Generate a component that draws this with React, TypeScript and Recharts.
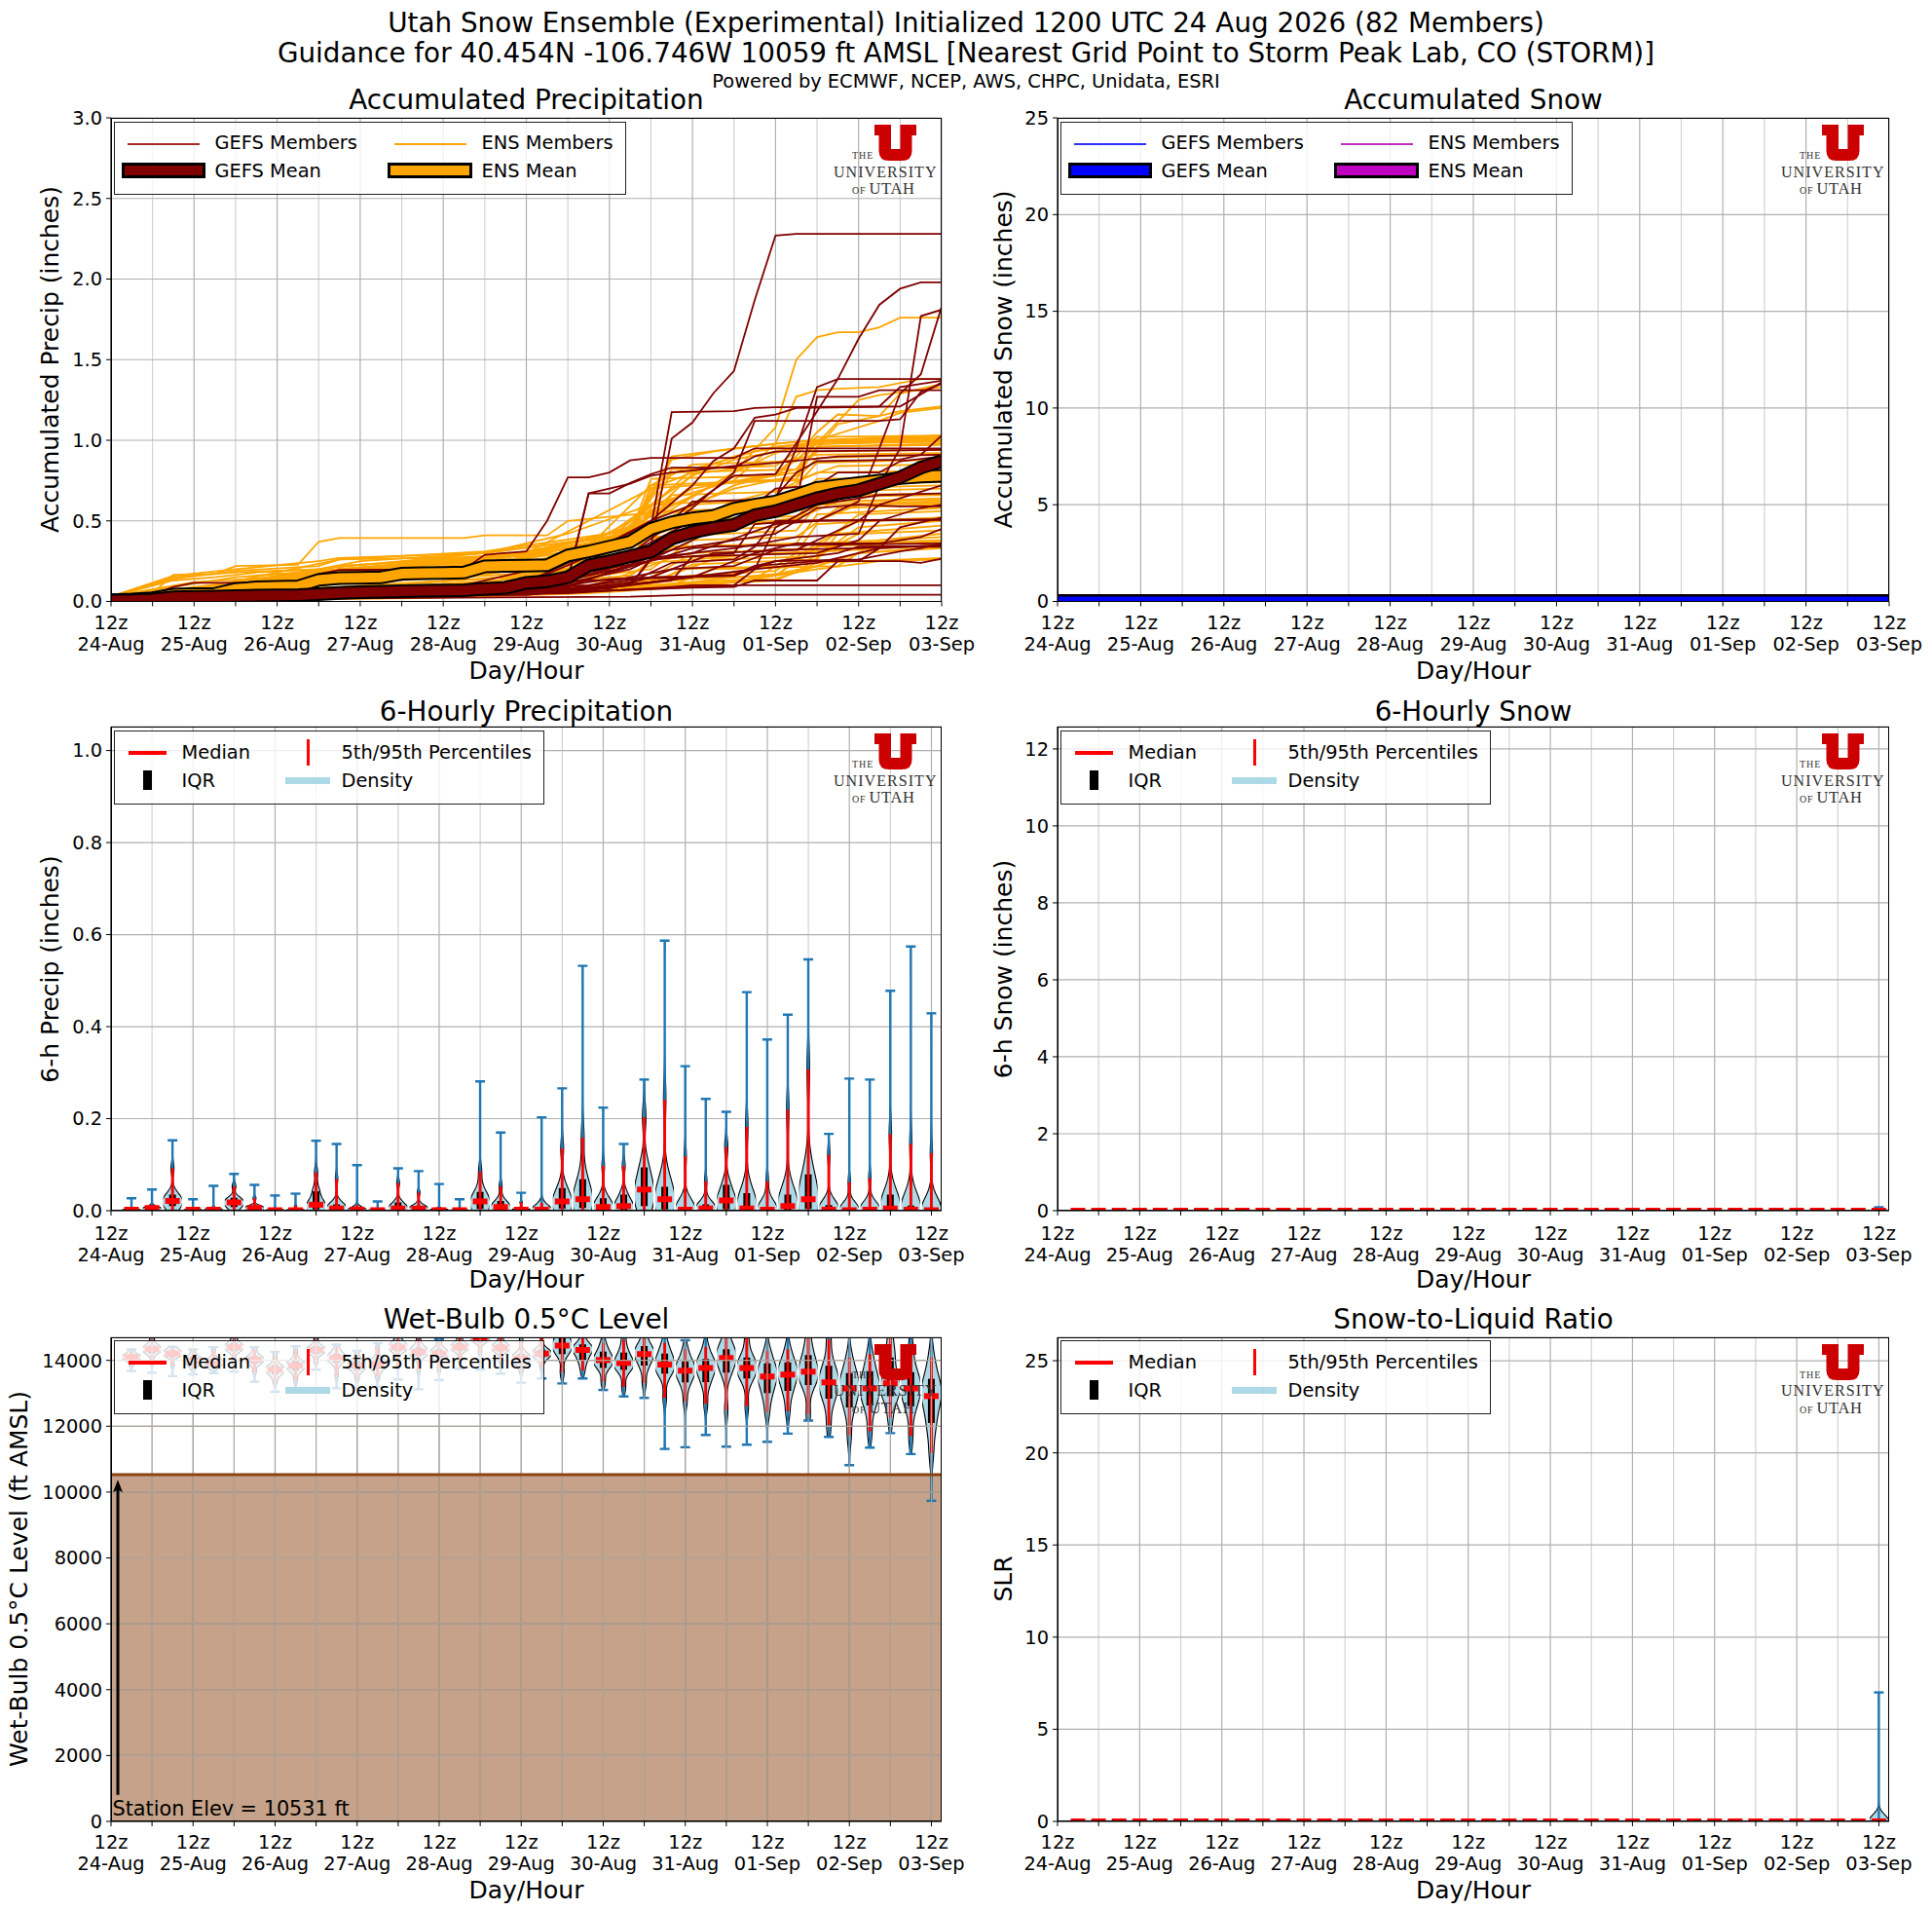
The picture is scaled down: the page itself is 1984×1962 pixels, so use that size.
import React from 'react';
import { Bar, CartesianGrid, ComposedChart, Legend, Line, ReferenceArea, ReferenceLine, XAxis, YAxis } from 'recharts';

const FONT = '"DejaVu Sans", sans-serif';

const xTicks = [0, 12, 24, 36, 48, 60, 72, 84, 96, 108, 120, 132, 144, 156, 168, 180, 192, 204, 216, 228, 240];
const majorHours = [0, 24, 48, 72, 96, 120, 144, 168, 192, 216, 240];
const minorHours = [12, 36, 60, 84, 108, 132, 156, 180, 204, 228];
const dayLabels = ['24-Aug', '25-Aug', '26-Aug', '27-Aug', '28-Aug', '29-Aug', '30-Aug', '31-Aug', '01-Sep', '02-Sep', '03-Sep'];

const meanHours = [0, 6, 12, 18, 24, 30, 36, 42, 48, 54, 60, 66, 72, 78, 84, 90, 96, 102, 108, 114, 120, 126, 132, 138, 144, 150, 156, 162, 168, 174, 180, 186, 192, 198, 204, 210, 216, 222, 228, 234, 240];
const gefsMean = [.005, .007, .012, .025, .028, .03, .034, .036, .038, .039, .045, .053, .058, .06, .063, .066, .068, .07, .078, .085, .115, .125, .15, .224, .25, .28, .31, .39, .43, .455, .475, .535, .56, .60, .64, .67, .69, .73, .77, .83, .87];
const ensMean = [.008, .012, .02, .043, .045, .047, .077, .087, .09, .093, .134, .145, .147, .15, .172, .175, .177, .18, .217, .22, .222, .225, .285, .31, .34, .37, .45, .49, .515, .53, .575, .60, .62, .66, .705, .72, .735, .75, .765, .775, .78];

// hand read [hour, inches] vertices of each member
const gefsMembers = [
  [[0,.02],[60,.03],[120,.1],[132,.13],[150,.22],[156,.34],[162,1.01],[168,1.11],[174,1.29],[180,1.43],[186,1.87],[192,2.27],[198,2.28],[240,2.28]],
  [[0,.02],[72,.04],[120,.12],[138,.3],[156,.5],[168,.6],[180,.78],[192,.79],[198,.98],[204,1.18],[210,1.38],[216,1.63],[222,1.84],[228,1.94],[234,1.98],[240,1.98]],
  [[0,.02],[90,.03],[132,.06],[150,.1],[156,.27],[180,.33],[198,.4],[216,.42],[222,.72],[228,.95],[234,1.77],[240,1.81]],
  [[0,.03],[84,.05],[132,.16],[168,.3],[192,.48],[204,.5],[216,.62],[222,.95],[228,1.29],[234,1.41],[240,1.83]],
  [[0,.02],[66,.06],[126,.1],[162,.4],[186,.62],[192,.64],[198,.95],[204,1.33],[210,1.38],[240,1.38]],
  [[0,.03],[108,.1],[132,.18],[156,.46],[162,1.175],[180,1.18],[186,1.2],[192,1.205],[222,1.21],[228,1.33],[234,1.35],[240,1.37]],
  [[0,.02],[120,.06],[150,.2],[180,.5],[198,.6],[204,1.27],[216,1.27],[222,1.31],[240,1.31]],
  [[0,.02],[114,.05],[144,.2],[168,.58],[180,.8],[186,1.12],[222,1.12],[228,1.13],[234,1.3],[240,1.35]],
  [[0,.03],[102,.1],[138,.28],[156,.5],[168,.72],[174,.87],[180,.95],[186,1.14],[192,1.16],[198,1.2],[228,1.21],[240,1.36]],
  [[0,.02],[12,.04],[18,.09],[24,.115],[54,.115],[60,.17],[66,.195],[102,.2],[108,.29],[120,.31],[126,.5],[132,.77],[138,.77],[144,.8],[150,.875],[156,.89],[180,.89],[186,.95],[240,.95]],
  [[0,.02],[72,.05],[108,.1],[132,.13],[138,.67],[144,.67],[150,.735],[156,.79],[162,.83],[180,.83],[186,.9],[192,.93],[240,.94]],
  [[0,.02],[96,.04],[132,.14],[138,.67],[144,.7],[150,.73],[156,.78],[162,.8],[180,.84],[192,.86],[210,.9],[240,.91]],
  [[0,.01],[120,.05],[150,.3],[168,.5],[192,.65],[198,.8],[204,.87],[228,.88],[234,.91],[240,1.03]],
  [[0,.01],[150,.03],[168,.042],[240,.042]],
  [[0,.01],[132,.05],[162,.09],[168,.1],[240,.1]],
  [[0,.01],[132,.06],[168,.085],[180,.09],[186,.13],[204,.13],[210,.25],[228,.25],[234,.24],[240,.265]],
  [[0,.02],[132,.08],[156,.15],[180,.16],[186,.22],[204,.25],[216,.25],[222,.33],[240,.35]],
  [[0,.02],[120,.06],[144,.14],[180,.165],[186,.22],[192,.25],[210,.3],[216,.34],[240,.345]],
  [[0,.02],[138,.1],[162,.2],[180,.22],[192,.32],[216,.33],[228,.34],[240,.34]],
  [[0,.02],[126,.05],[150,.12],[162,.24],[180,.26],[186,.34],[192,.5],[240,.505]],
  [[0,.03],[108,.06],[150,.1],[156,.26],[168,.28],[180,.3],[186,.48],[198,.5],[240,.51]],
  [[0,.02],[132,.09],[162,.32],[192,.42],[204,.58],[216,.6],[228,.59],[240,.59]],
  [[0,.02],[144,.08],[156,.15],[174,.3],[198,.32],[216,.5],[222,.6],[234,.68],[240,.72]],
  [[0,.02],[120,.09],[156,.33],[180,.5],[192,.7],[204,.72],[210,.8],[222,.8],[228,.87],[240,.9]],
  [[0,.03],[138,.07],[162,.13],[168,.28],[204,.3],[216,.38],[222,.5],[234,.58],[240,.6]],
  [[0,.02],[150,.14],[180,.16],[192,.25],[216,.26],[228,.31],[234,.33],[240,.36]],
  [[0,.01],[96,.03],[144,.09],[168,.15],[186,.3],[198,.36],[222,.36],[234,.4],[240,.45]],
  [[0,.02],[132,.1],[168,.33],[174,.34],[198,.35],[240,.36]],
  [[0,.02],[120,.04],[156,.12],[186,.2],[192,.46],[204,.6],[222,.66],[240,.67]],
  [[0,.02],[126,.05],[168,.09],[180,.1],[186,.2],[204,.24],[222,.33],[228,.46],[240,.52]],
  [[0,.03],[114,.06],[162,.5],[168,.62],[186,.63],[216,.7],[228,.78],[240,.8]],
];

const ensMembers = [
  [[0,.03],[12,.05],[18,.166],[30,.17],[36,.22],[54,.227],[60,.37],[66,.393],[102,.393],[108,.41],[126,.41],[132,.5],[156,.55],[168,.65],[180,.8],[192,1.08],[198,1.5],[204,1.64],[210,1.67],[216,1.67],[222,1.7],[228,1.76],[240,1.76]],
  [[0,.03],[18,.16],[36,.2],[60,.25],[66,.27],[108,.3],[132,.42],[156,.6],[180,.75],[192,.98],[198,1.27],[204,1.31],[210,1.32],[222,1.33],[234,1.38],[240,1.38]],
  [[0,.03],[18,.14],[36,.19],[60,.22],[66,.26],[120,.28],[138,.36],[168,.7],[192,.79],[198,.9],[204,1.05],[210,1.16],[222,1.15],[228,1.18],[240,1.21]],
  [[0,.03],[18,.15],[36,.18],[60,.2],[72,.25],[108,.3],[144,.4],[174,.72],[198,.8],[210,1.1],[222,1.15],[228,1.29],[240,1.35]],
  [[0,.03],[18,.13],[30,.15],[42,.18],[60,.2],[108,.3],[150,.42],[180,.8],[192,.92],[204,1.0],[222,1.12],[228,1.17],[240,1.2]],
  [[0,.03],[24,.12],[48,.15],[66,.2],[114,.28],[144,.42],[168,.78],[180,.88],[204,.98],[216,1.25],[222,1.28],[240,1.33]],
  [[0,.03],[36,.15],[66,.2],[108,.27],[150,.42],[162,.88],[174,.93],[192,.98],[204,1.0],[240,1.03]],
  [[0,.03],[30,.1],[66,.26],[108,.31],[150,.44],[162,.9],[180,.95],[198,.99],[240,1.02]],
  [[0,.03],[36,.12],[66,.22],[120,.3],[156,.7],[180,.9],[192,.96],[210,1.0],[240,1.01]],
  [[0,.03],[30,.09],[60,.18],[108,.26],[144,.36],[168,.82],[186,.93],[198,.97],[240,1.0]],
  [[0,.03],[24,.06],[66,.22],[108,.27],[150,.4],[180,.72],[198,.82],[204,.99],[240,1.0]],
  [[0,.03],[36,.1],[72,.2],[114,.25],[156,.5],[180,.7],[198,.78],[204,.96],[240,.98]],
  [[0,.03],[30,.08],[66,.18],[120,.27],[150,.42],[168,.79],[192,.86],[204,.91],[240,.92]],
  [[0,.03],[36,.1],[72,.17],[108,.24],[144,.34],[168,.72],[198,.76],[204,.89],[240,.91]],
  [[0,.03],[24,.06],[66,.17],[108,.22],[156,.4],[180,.62],[198,.72],[204,.86],[240,.88]],
  [[0,.03],[36,.08],[60,.12],[108,.2],[132,.24],[150,.36],[156,.72],[198,.76],[204,.96],[240,.97]],
  [[0,.03],[30,.07],[60,.13],[108,.22],[138,.3],[150,.36],[162,.8],[198,.82],[204,.93],[240,.94]],
  [[0,.03],[36,.06],[60,.1],[108,.18],[132,.22],[144,.3],[150,.42],[156,.7],[180,.74],[198,.75],[210,.84],[240,.85]],
  [[0,.03],[30,.05],[66,.11],[108,.16],[138,.2],[150,.32],[162,.66],[192,.68],[204,.8],[240,.81]],
  [[0,.03],[36,.07],[66,.09],[114,.15],[132,.18],[156,.6],[174,.62],[198,.64],[204,.76],[240,.77]],
  [[0,.02],[24,.04],[60,.08],[108,.14],[144,.24],[156,.55],[186,.58],[198,.6],[210,.73],[240,.74]],
  [[0,.02],[36,.05],[72,.08],[120,.14],[150,.3],[162,.5],[192,.53],[204,.68],[240,.7]],
  [[0,.02],[30,.04],[66,.07],[108,.12],[150,.26],[156,.46],[186,.48],[198,.52],[204,.66],[240,.67]],
  [[0,.02],[24,.03],[60,.06],[114,.12],[150,.22],[162,.44],[192,.46],[210,.62],[240,.64]],
  [[0,.02],[36,.04],[72,.07],[108,.1],[144,.18],[156,.4],[198,.44],[204,.6],[240,.62]],
  [[0,.02],[30,.04],[60,.05],[120,.11],[156,.2],[168,.38],[198,.4],[210,.58],[240,.6]],
  [[0,.02],[24,.03],[66,.05],[108,.09],[150,.16],[162,.34],[198,.36],[204,.54],[240,.58]],
  [[0,.02],[36,.04],[78,.06],[114,.09],[156,.15],[168,.3],[204,.33],[216,.54],[240,.56]],
  [[0,.02],[24,.03],[72,.05],[108,.08],[144,.13],[162,.27],[198,.3],[204,.48],[240,.52]],
  [[0,.02],[30,.03],[60,.04],[120,.08],[156,.12],[174,.26],[204,.28],[216,.46],[240,.5]],
  [[0,.02],[36,.03],[84,.05],[126,.08],[156,.11],[168,.23],[204,.26],[210,.42],[240,.47]],
  [[0,.02],[24,.02],[72,.04],[114,.06],[150,.1],[162,.2],[198,.22],[216,.42],[240,.44]],
  [[0,.02],[30,.03],[66,.04],[108,.06],[162,.1],[174,.2],[210,.22],[222,.38],[240,.42]],
  [[0,.02],[48,.03],[90,.05],[132,.08],[168,.16],[192,.19],[204,.36],[240,.4]],
  [[0,.02],[36,.02],[78,.03],[120,.05],[156,.09],[180,.15],[198,.18],[210,.36],[240,.38]],
  [[0,.02],[54,.03],[96,.04],[138,.08],[168,.14],[192,.16],[204,.34],[240,.37]],
  [[0,.01],[42,.02],[84,.03],[126,.05],[162,.11],[186,.14],[198,.3],[240,.35]],
  [[0,.01],[30,.02],[72,.03],[132,.06],[168,.12],[192,.14],[216,.3],[240,.34]],
  [[0,.01],[48,.02],[96,.03],[144,.07],[180,.12],[204,.22],[216,.3],[240,.33]],
  [[0,.01],[60,.02],[108,.04],[150,.09],[192,.13],[204,.24],[240,.27]],
  [[0,.01],[36,.01],[90,.02],[138,.05],[174,.1],[204,.2],[222,.25],[240,.26]],
  [[0,.03],[30,.09],[66,.2],[108,.28],[132,.33],[150,.42],[156,.76],[192,.78],[204,.98],[240,.99]],
  [[0,.03],[24,.07],[60,.16],[108,.26],[138,.34],[156,.72],[168,.85],[198,.87],[204,1.0],[240,1.01]],
  [[0,.03],[36,.11],[72,.21],[114,.27],[150,.45],[162,.82],[192,.84],[204,1.02],[240,1.03]],
  [[0,.03],[24,.08],[66,.19],[108,.26],[144,.36],[156,.56],[192,.58],[204,.7],[240,.72]],
  [[0,.03],[30,.07],[72,.16],[120,.23],[156,.48],[168,.5],[198,.53],[210,.65],[240,.66]],
  [[0,.03],[36,.09],[78,.18],[108,.24],[138,.32],[162,.48],[198,.5],[204,.62],[240,.63]],
  [[0,.03],[24,.05],[60,.14],[114,.22],[150,.36],[174,.47],[204,.5],[216,.6],[240,.61]],
  [[0,.02],[30,.05],[66,.11],[108,.17],[144,.27],[168,.34],[204,.36],[216,.5],[240,.52]],
  [[0,.02],[36,.06],[72,.09],[120,.16],[156,.24],[192,.3],[222,.33],[240,.35]],
  [[0,.03],[24,.06],[66,.15],[108,.23],[132,.27],[150,.38],[168,.6],[198,.64],[204,.74],[240,.75]],
];

const snowHours = [0, 240];
const gefsSnowMean = [0, 0];
const ensSnowMean = [0, 0];

const violinHours = [6, 12, 18, 24, 30, 36, 42, 48, 54, 60, 66, 72, 78, 84, 90, 96, 102, 108, 114, 120, 126, 132, 138, 144, 150, 156, 162, 168, 174, 180, 186, 192, 198, 204, 210, 216, 222, 228, 234, 240];
const zeros = [0, 0, 0, 0, 0, 0, 0, 0, 0, 0, 0, 0, 0, 0, 0, 0, 0, 0, 0, 0, 0, 0, 0, 0, 0, 0, 0, 0, 0, 0, 0, 0, 0, 0, 0, 0, 0, 0, 0, 0];

const precipHigh = [.027, .046, .153, .025, .054, .08, .056, .033, .037, .152, .145, .099, .02, .092, .086, .058, .025, .281, .17, .039, .203, .266, .532, .224, .145, .285, .587, .314, .243, .215, .475, .372, .426, .546, .167, .287, .285, .478, .574, .429];
const precipP95 = [.003, .012, .092, .003, .006, .053, .027, .003, .01, .083, .069, .012, .004, .06, .039, .004, .005, .085, .053, .018, .017, .135, .159, .097, .097, .203, .241, .118, .064, .138, .182, .064, .219, .307, .121, .062, .071, .166, .145, .125];
const precipQ3 = [.001, .003, .035, .001, .002, .028, .01, .001, .001, .042, .014, .002, .001, .018, .011, .001, .001, .041, .021, .002, .002, .049, .068, .027, .035, .094, .052, .005, .014, .056, .038, .005, .035, .079, .012, .003, .008, .035, .011, .002];
const precipMed = [.002, .006, .021, .002, .002, .018, .006, .001, .001, .013, .005, .002, .001, .005, .004, .001, .001, .02, .008, .002, .002, .02, .025, .008, .01, .046, .025, .002, .005, .022, .005, .002, .01, .025, .002, .001, .002, .005, .002, .001];
const precipQ1 = [0, 0, .01, 0, 0, .008, .002, 0, 0, .003, 0, 0, 0, 0, 0, 0, 0, .004, 0, 0, 0, .005, .006, 0, 0, .01, .003, 0, 0, .003, 0, 0, 0, .004, 0, 0, 0, 0, 0, 0];

const snow6hHigh = [0, 0, 0, 0, 0, 0, 0, 0, 0, 0, 0, 0, 0, 0, 0, 0, 0, 0, 0, 0, 0, 0, 0, 0, 0, 0, 0, 0, 0, 0, 0, 0, 0, 0, 0, 0, 0, 0, 0, .09];
const slrHigh = [0, 0, 0, 0, 0, 0, 0, 0, 0, 0, 0, 0, 0, 0, 0, 0, 0, 0, 0, 0, 0, 0, 0, 0, 0, 0, 0, 0, 0, 0, 0, 0, 0, 0, 0, 0, 0, 0, 0, 7];

const wetLow = [13675, 13625, 13520, 13575, 13615, 13655, 13350, 13045, 13045, 13715, 13150, 13150, 13200, 13420, 13120, 13400, 13745, 13715, 13595, 13320, 13450, 13300, 13450, 13100, 12905, 12860, 11310, 11360, 11735, 11380, 11440, 11530, 11775, 12170, 11675, 10820, 11350, 11790, 11155, 9735];
const wetP5 = [13850, 13950, 13850, 13750, 13750, 14000, 13650, 13350, 13400, 13950, 13550, 13450, 13500, 13850, 13700, 13750, 14050, 14250, 14000, 13700, 13800, 13645, 13695, 13350, 13200, 13320, 12857, 12760, 12680, 12493, 12610, 12434, 12463, 12365, 12040, 11725, 11843, 12266, 11705, 11183];
const wetQ1 = [14000, 14220, 14100, 13880, 13830, 14280, 13900, 13580, 13700, 14200, 13930, 13700, 13750, 14280, 14130, 14080, 14300, 14560, 14270, 13940, 14090, 14187, 14020, 13773, 13714, 13842, 13596, 13330, 13340, 13626, 13448, 13005, 13074, 13251, 12838, 12572, 12631, 12907, 12611, 12099];
const wetMed = [14090, 14335, 14205, 14000, 13940, 14400, 14020, 13715, 13840, 14315, 14070, 13840, 13890, 14400, 14255, 14205, 14400, 14680, 14385, 14070, 14205, 14450, 14315, 14010, 13920, 14190, 13870, 13685, 13770, 14070, 13770, 13510, 13565, 13655, 13330, 13150, 13150, 13300, 13150, 12915];
const wetQ3 = [14180, 14450, 14300, 14110, 14050, 14520, 14130, 13850, 13980, 14430, 14200, 13980, 14030, 14520, 14380, 14330, 14520, 14800, 14500, 14200, 14330, 14709, 14483, 14266, 14236, 14433, 14207, 13970, 14039, 14335, 14089, 13911, 13941, 14158, 13833, 13616, 13675, 14089, 13645, 13439];
const wetP95 = [14280, 14650, 14380, 14280, 14300, 14700, 14330, 14150, 14300, 14650, 14400, 14200, 14380, 14700, 14650, 14550, 14700, 14900, 14700, 14600, 14750, 15000, 14900, 14532, 14630, 14800, 14532, 14335, 14404, 14709, 14709, 14286, 14335, 14709, 14630, 14089, 14187, 14709, 14384, 14089];
const wetHigh = [14335, 14800, 14410, 14335, 14400, 14800, 14400, 14255, 14430, 14800, 14480, 14285, 14520, 14800, 14800, 14650, 14800, 15000, 14800, 14800, 14900, 15100, 15000, 14750, 14750, 15000, 15000, 14610, 14800, 15000, 15000, 14900, 14900, 15000, 14800, 14900, 14900, 15100, 14900, 15000];
const stationElev = 10531;

const precipTicks = [0, .2, .4, .6, .8, 1];
const accumPrecipTicks = [0, .5, 1, 1.5, 2, 2.5, 3];
const accumSnowTicks = [0, 5, 10, 15, 20, 25];
const snow6hTicks = [0, 2, 4, 6, 8, 10, 12];
const wetTicks = [0, 2000, 4000, 6000, 8000, 10000, 12000, 14000];
const slrTicks = [0, 5, 10, 15, 20, 25];

const toRows = (pts: number[][]) => pts.map(([h, v]) => ({ h, v }));
const zipRows = (hs: number[], vs: number[]) => hs.map((h, i) => ({ h, v: vs[i] }));

const violinRows = (low: number[], p5: number[], q1: number[], med: number[], q3: number[], p95: number[], high: number[]) =>
  violinHours.map((h, i) => ({ h, low: low[i], p5: p5[i], q1: q1[i], med: med[i], q3: q3[i], p95: p95[i], high: high[i] }));

const precipRows = violinRows(zeros, zeros, precipQ1, precipMed, precipQ3, precipP95, precipHigh);
const snow6hRows = violinRows(zeros, zeros, zeros, zeros, zeros, zeros, snow6hHigh);
const wetRows = violinRows(wetLow, wetP5, wetQ1, wetMed, wetQ3, wetP95, wetHigh);
const slrRows = violinRows(zeros, zeros, zeros, zeros, zeros, zeros, slrHigh);

const COLS = [
  { box: 0, width: 1010, plot: 114, right: 967 },
  { box: 1000, width: 984, plot: 1086, right: 1940 },
];
const ROWS = [121, 746, 1372.5];
const PLOT_HS = [496.5, 497, 497];
const TICK_DY = [0, 1.5, 0];
const TITLE_DY = [0, 2.5, 0];
const TOP = 41;
const BOTTOM = 83;

// outline of the violin: a smoothed density of the member percentiles
function violinOutline(d: any) {
  const pts = [[d.low, .01], [d.p5, .1], [d.q1, .2], [d.med, .38], [d.q3, .2], [d.p95, .1], [d.high, .01]];
  const mean = pts.reduce((s, p) => s + p[0] * p[1], 0);
  const sd = Math.sqrt(pts.reduce((s, p) => s + p[1] * (p[0] - mean) ** 2, 0));
  const bw = sd * 0.5;
  const out: number[][] = [];
  let peak = 0;
  for (let i = 0; i <= 90; i++) {
    const v = d.low + ((d.high - d.low) * i) / 90;
    const w = pts.reduce((s, p) => s + p[1] * Math.exp(-((v - p[0]) ** 2) / (2 * bw * bw)), 0);
    peak = Math.max(peak, w);
    out.push([v, w]);
  }
  return out.map(([v, w]) => [v, w / peak]);
}

const makeViolin = (panel: string, domain: number[]) => (props: any) => {
  const { x, y, width, height, payload: d } = props;
  const cx = x + width / 2;
  const py = (v: number) => y + height * (1 - (v - domain[0]) / (domain[1] - domain[0]));
  const clip = `clip-${panel}-${d.h}`;
  const spread = d.high > d.low;
  let body = null;
  if (spread) {
    const o = violinOutline(d);
    const left = o.map(([v, w]) => `${(cx - w * 10.5).toFixed(2)},${py(v).toFixed(2)}`);
    const right = o.map(([v, w]) => `${(cx + w * 10.5).toFixed(2)},${py(v).toFixed(2)}`).reverse();
    body = <polygon points={[...left, ...right].join(' ')} fill="#add8e6" stroke="#000" strokeWidth={1.1} />;
  }
  return (
    <g>
      <clipPath id={clip}><rect x={x} y={y} width={width} height={height} /></clipPath>
      <g clipPath={`url(#${clip})`}>
        {body}
        {spread && <line x1={cx} x2={cx} y1={py(d.low)} y2={py(d.high)} stroke="#1f77b4" strokeWidth={2.4} />}
        {spread && <line x1={cx - 5} x2={cx + 5} y1={py(d.low)} y2={py(d.low)} stroke="#1f77b4" strokeWidth={2.4} />}
        {spread && <line x1={cx - 5} x2={cx + 5} y1={py(d.high)} y2={py(d.high)} stroke="#1f77b4" strokeWidth={2.4} />}
        <line x1={cx} x2={cx} y1={py(d.q1)} y2={py(d.q3)} stroke="#000" strokeWidth={7} />
        <line x1={cx} x2={cx} y1={py(d.p5)} y2={py(d.p95)} stroke="#f00" strokeWidth={2.8} />
        <line x1={cx - 7.5} x2={cx + 7.5} y1={py(d.med)} y2={py(d.med)} stroke="#f00" strokeWidth={6} />
      </g>
    </g>
  );
};

const XTick = ({ x, y, payload, dy }: any) => {
  const h = payload.value;
  if (h % 24 !== 0) return <g />;
  return (
    <g>
      <text x={x} y={y + 21 + dy} textAnchor="middle" fontSize={19.4} fontFamily={FONT} fill="#000">12z</text>
      <text x={x} y={y + 43 + dy} textAnchor="middle" fontSize={19.4} fontFamily={FONT} fill="#000">{dayLabels[h / 24]}</text>
    </g>
  );
};

const ArrowShape = ({ x1, y1, x2, y2 }: any) => (
  <g>
    <line x1={x1} y1={y1} x2={x2} y2={y2 + 6} stroke="#000" strokeWidth={3} />
    <polygon points={`${x2},${y2} ${x2 - 5},${y2 + 13} ${x2},${y2 + 10} ${x2 + 5},${y2 + 13}`} fill="#000" />
  </g>
);

const abs = (left: number, top: number, width: number, height: number, extra: any = {}) => ({ position: 'absolute', left, top, width, height, ...extra });

const LegendText = ({ x, y, children }: any) => (
  <div style={{ position: 'absolute', left: x, top: y, transform: 'translateY(-50%)', fontFamily: FONT, fontSize: 19.4, whiteSpace: 'nowrap', color: '#000' }}>{children}</div>
);

const MeansLegend = ({ c1, c2, c3, c4, labels }: any) => (
  <div style={abs(0, 0, 526, 75.5, { background: 'rgba(255,255,255,.8)', border: '1px solid #222', boxSizing: 'border-box' })}>
    <div style={abs(13, 21, 74, 2, { background: c1 })} />
    <LegendText x={102.5} y={20}>{labels[0]}</LegendText>
    <div style={abs(287, 21, 74, 2, { background: c2 })} />
    <LegendText x={376.5} y={20}>{labels[1]}</LegendText>
    <div style={abs(6.5, 41.5, 86.5, 16, { background: c3, border: '3.5px solid #000', boxSizing: 'border-box' })} />
    <LegendText x={102.5} y={49}>{labels[2]}</LegendText>
    <div style={abs(280, 41.5, 87, 16, { background: c4, border: '3.5px solid #000', boxSizing: 'border-box' })} />
    <LegendText x={376.5} y={49}>{labels[3]}</LegendText>
  </div>
);

const ViolinLegend = () => (
  <div style={abs(0, 0, 442, 76, { background: 'rgba(255,255,255,.8)', border: '1px solid #222', boxSizing: 'border-box' })}>
    <div style={abs(14, 20, 39, 4, { background: '#f00' })} />
    <LegendText x={68.5} y={21}>Median</LegendText>
    <div style={abs(29, 40, 9, 20, { background: '#000' })} />
    <LegendText x={68.5} y={50}>IQR</LegendText>
    <div style={abs(197, 8, 3, 27, { background: '#f00' })} />
    <LegendText x={232.5} y={21}>5th/95th Percentiles</LegendText>
    <div style={abs(175, 47, 46, 7, { background: '#add8e6' })} />
    <LegendText x={232.5} y={50}>Density</LegendText>
  </div>
);

const Logo = ({ right, top }: any) => (
  <div style={abs(right - 111, top + 7, 106, 75)}>
    <svg width={44} height={38} style={{ position: 'absolute', left: 42, top: 0 }}>
      <path d="M0 0H17V25H26.5V0H43V11H38.5V27Q38.5 37 28 37H15Q4.5 37 4.5 27V11H0Z" fill="#cc0000" />
    </svg>
    <div style={{ position: 'absolute', left: 19, top: 26, fontFamily: '"Liberation Serif", serif', fontSize: 10, letterSpacing: 1, lineHeight: '12px', color: '#333' }}>THE</div>
    <div style={{ position: 'absolute', left: 0, top: 39.5, fontFamily: '"Liberation Serif", serif', fontSize: 16, letterSpacing: 1.05, lineHeight: '18px', color: '#333', whiteSpace: 'nowrap' }}>UNIVERSITY</div>
    <div style={{ position: 'absolute', left: 19, top: 57, fontFamily: '"Liberation Serif", serif', fontSize: 16.5, letterSpacing: .7, lineHeight: '18px', color: '#333', whiteSpace: 'nowrap' }}>
      <span style={{ fontSize: 10 }}>OF </span>UTAH
    </div>
  </div>
);

const centered = (left: number, top: number, size: number, text: string, extra: any = {}) => (
  <div style={{ position: 'absolute', left, top, transform: 'translate(-50%,-50%)', fontFamily: FONT, fontSize: size, whiteSpace: 'nowrap', color: '#000', ...extra }}>{text}</div>
);

function Panel({ col, row, title, ylabel, ylabelX, domain, yTicks, fmt, xMax, legend, legendWidth, data, children }: any) {
  const c = COLS[col];
  const top = ROWS[row];
  const plotH = PLOT_HS[row];
  const w = c.width;
  const h = TOP + plotH + BOTTOM;
  const cxPlot = (c.plot + c.right) / 2;
  return (
    <>
      <div style={abs(c.box, top - TOP, w, h)}>
        <ComposedChart width={w} height={h} data={data} margin={{ top: TOP, right: c.box + w - c.right, left: 0, bottom: 0 }}>
          <CartesianGrid horizontal={false} verticalValues={minorHours} stroke="#cfcfcf" strokeWidth={1.1} />
          <CartesianGrid verticalValues={majorHours} stroke="#b0b0b0" strokeWidth={1.2} />
          <XAxis dataKey="h" type="number" domain={[0, xMax]} ticks={xTicks} interval={0} height={BOTTOM} tick={<XTick dy={TICK_DY[row]} />} tickSize={5} stroke="#000" allowDataOverflow allowDuplicatedCategory={false} />
          <YAxis type="number" domain={domain} ticks={yTicks} interval={0} width={c.plot - c.box} tickFormatter={fmt} tick={{ fill: '#000', fontSize: 19.4, fontFamily: FONT }} tickSize={5} tickMargin={4} stroke="#000" allowDataOverflow />
          {children}
          <Legend verticalAlign="middle" layout="horizontal" wrapperStyle={{ position: 'absolute', left: c.plot - c.box + 3, top: TOP + 3.5, width: legendWidth, height: 76 }} content={() => legend} />
        </ComposedChart>
      </div>
      <div style={abs(c.plot, top, c.right - c.plot, plotH, { border: '1px solid #000', boxSizing: 'border-box', pointerEvents: 'none' })} />
      <Logo right={c.right} top={top} />
      {centered(cxPlot, top - 19 + TITLE_DY[row], 27.8, title)}
      {centered(cxPlot, top + plotH + 70, 25, 'Day/Hour')}
      {centered(ylabelX, top + plotH / 2, 25, ylabel, { transform: 'translate(-50%,-50%) rotate(-90deg)' })}
    </>
  );
}

const memberLine = (pts: number[][], i: number, color: string, prefix: string) => (
  <Line key={prefix + i} data={toRows(pts)} dataKey="v" type="linear" stroke={color} strokeWidth={1.8} dot={false} activeDot={false} legendType="none" isAnimationActive={false} />
);

const meanLine = (rows: any[], color: string, key: string, outer = 14, inner = 10) => [
  <Line key={key + 'o'} data={rows} dataKey="v" type="linear" stroke="#000" strokeWidth={outer} dot={false} activeDot={false} legendType="none" isAnimationActive={false} />,
  <Line key={key + 'i'} data={rows} dataKey="v" type="linear" stroke={color} strokeWidth={inner} dot={false} activeDot={false} legendType="none" isAnimationActive={false} />,
];

const violinBar = (panel: string, domain: number[]) => (
  <Bar dataKey={() => domain} barSize={30} shape={makeViolin(panel, domain)} legendType="none" isAnimationActive={false} />
);

const oneDecimal = (v: number) => v.toFixed(1);

export default function App() {
  const precipDomain = [0, 3];
  const snowDomain = [0, 25];
  const p6Domain = [0, 1.052];
  const s6Domain = [0, 12.58];
  const wetDomain = [0, 14700];
  const slrDomain = [0, 26.27];
  return (
    <div style={{ position: 'absolute', left: 0, top: 0, width: 1984, height: 1962, background: '#fff', overflow: 'hidden' }}>
      {centered(992, 23, 27.8, 'Utah Snow Ensemble (Experimental) Initialized 1200 UTC 24 Aug 2026 (82 Members)')}
      {centered(992, 54, 27.8, 'Guidance for 40.454N -106.746W 10059 ft AMSL [Nearest Grid Point to Storm Peak Lab, CO (STORM)]')}
      {centered(992, 83, 19.4, 'Powered by ECMWF, NCEP, AWS, CHPC, Unidata, ESRI')}

      <Panel col={0} row={0} title="Accumulated Precipitation" ylabel="Accumulated Precip (inches)" ylabelX={51} domain={precipDomain} yTicks={accumPrecipTicks} fmt={oneDecimal} xMax={240} legendWidth={526}
        legend={<MeansLegend c1="#a52a2a" c2="#ffa500" c3="#800000" c4="#ffa500" labels={['GEFS Members', 'ENS Members', 'GEFS Mean', 'ENS Mean']} />}>
        {ensMembers.map((m, i) => memberLine(m, i, '#ffa500', 'e'))}
        {gefsMembers.map((m, i) => memberLine(m, i, '#800000', 'g'))}
        {meanLine(zipRows(meanHours, ensMean), '#ffa500', 'em')}
        {meanLine(zipRows(meanHours, gefsMean), '#800000', 'gm')}
      </Panel>

      <Panel col={1} row={0} title="Accumulated Snow" ylabel="Accumulated Snow (inches)" ylabelX={1030} domain={snowDomain} yTicks={accumSnowTicks} xMax={240} legendWidth={526}
        legend={<MeansLegend c1="#3030ff" c2="#c030c0" c3="#0000ff" c4="#c000c0" labels={['GEFS Members', 'ENS Members', 'GEFS Mean', 'ENS Mean']} />}>
        {meanLine(zipRows(snowHours, ensSnowMean), '#c000c0', 'em', 15, 10)}
        {meanLine(zipRows(snowHours, gefsSnowMean), '#0000ff', 'gm', 15, 10)}
      </Panel>

      <Panel col={0} row={1} title="6-Hourly Precipitation" ylabel="6-h Precip (inches)" ylabelX={51} domain={p6Domain} yTicks={precipTicks} fmt={oneDecimal} xMax={243} legendWidth={442} data={precipRows} legend={<ViolinLegend />}>
        {violinBar('p6', p6Domain)}
      </Panel>

      <Panel col={1} row={1} title="6-Hourly Snow" ylabel="6-h Snow (inches)" ylabelX={1030} domain={s6Domain} yTicks={snow6hTicks} xMax={243} legendWidth={442} data={snow6hRows} legend={<ViolinLegend />}>
        {violinBar('s6', s6Domain)}
      </Panel>

      <Panel col={0} row={2} title="Wet-Bulb 0.5°C Level" ylabel="Wet-Bulb 0.5°C Level (ft AMSL)" ylabelX={19} domain={wetDomain} yTicks={wetTicks} xMax={243} legendWidth={442} data={wetRows} legend={<ViolinLegend />}>
        <ReferenceArea y1={0} y2={stationElev} fill="#8b4513" fillOpacity={0.5} stroke="none" />
        {xTicks.map(h => <ReferenceLine key={'vx' + h} x={h} stroke="#aba49d" strokeWidth={1.1} />)}
        {wetTicks.map(v => <ReferenceLine key={'hy' + v} y={v} stroke="#aba49d" strokeWidth={1.2} />)}
        <ReferenceLine y={stationElev} stroke="#8b4513" strokeWidth={3} />
        {violinBar('wb', wetDomain)}
        <ReferenceLine segment={[{ x: 2, y: 808 }, { x: 2, y: 10373 }]} shape={<ArrowShape />} />
      </Panel>
      {centered(115 + 122, 1856.5, 20.8, 'Station Elev = 10531 ft')}

      <Panel col={1} row={2} title="Snow-to-Liquid Ratio" ylabel="SLR" ylabelX={1030} domain={slrDomain} yTicks={slrTicks} xMax={243} legendWidth={442} data={slrRows} legend={<ViolinLegend />}>
        {violinBar('slr', slrDomain)}
      </Panel>
    </div>
  );
}
